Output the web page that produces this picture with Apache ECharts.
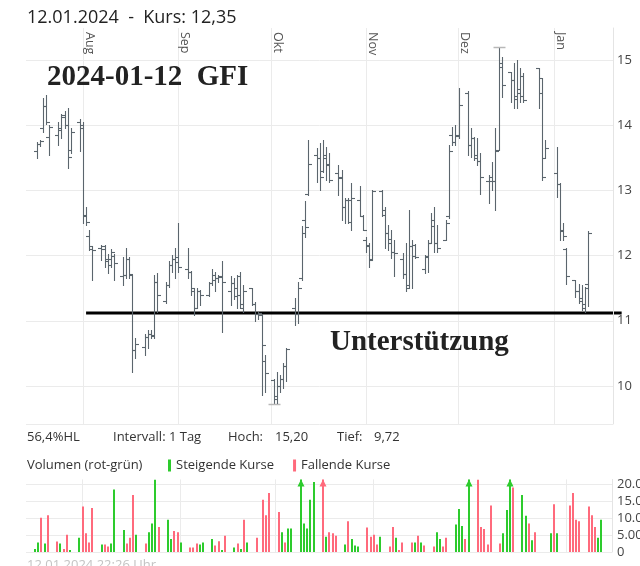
<!DOCTYPE html>
<html><head><meta charset="utf-8">
<script src="https://cdn.jsdelivr.net/npm/echarts@6/dist/echarts.min.js"></script>
<style>html,body{margin:0;padding:0;background:#fff}#c{width:640px;height:566px}</style>
</head><body><div id="c"></div>
<script>
// ---------- data ----------
const dates = [
'2023-07-17','2023-07-18','2023-07-19','2023-07-20','2023-07-21','2023-07-24','2023-07-25','2023-07-26','2023-07-27','2023-07-28','2023-07-31',
'2023-08-01','2023-08-02','2023-08-03','2023-08-04','2023-08-07','2023-08-08','2023-08-09','2023-08-10','2023-08-11','2023-08-14','2023-08-15','2023-08-16','2023-08-17','2023-08-18','2023-08-21','2023-08-22','2023-08-23','2023-08-24','2023-08-25','2023-08-28','2023-08-29','2023-08-30','2023-08-31',
'2023-09-01','2023-09-04','2023-09-05','2023-09-06','2023-09-07','2023-09-08','2023-09-11','2023-09-12','2023-09-13','2023-09-14','2023-09-15','2023-09-18','2023-09-19','2023-09-20','2023-09-21','2023-09-22','2023-09-25','2023-09-26','2023-09-27','2023-09-28','2023-09-29',
'2023-10-02','2023-10-03','2023-10-04','2023-10-05','2023-10-06','2023-10-09','2023-10-10','2023-10-11','2023-10-12','2023-10-13','2023-10-16','2023-10-17','2023-10-18','2023-10-19','2023-10-20','2023-10-23','2023-10-24','2023-10-25','2023-10-26','2023-10-27','2023-10-30','2023-10-31',
'2023-11-01','2023-11-02','2023-11-03','2023-11-06','2023-11-07','2023-11-08','2023-11-09','2023-11-10','2023-11-13','2023-11-14','2023-11-15','2023-11-16','2023-11-17','2023-11-20','2023-11-21','2023-11-22','2023-11-23','2023-11-24','2023-11-27','2023-11-28','2023-11-29','2023-11-30',
'2023-12-01','2023-12-04','2023-12-05','2023-12-06','2023-12-07','2023-12-08','2023-12-11','2023-12-12','2023-12-13','2023-12-14','2023-12-15','2023-12-18','2023-12-19','2023-12-20','2023-12-21','2023-12-22','2023-12-27','2023-12-28','2023-12-29',
'2024-01-02','2024-01-03','2024-01-04','2024-01-05','2024-01-08','2024-01-09','2024-01-10','2024-01-11','2024-01-12'];

const openP = [
13.60,13.71,13.95,14.30,13.82,13.85,13.92,14.15,14.00,13.62,14.05,
14.00,12.60,12.30,12.10,12.12,12.10,11.92,11.95,12.00,11.69,11.70,11.95,11.70,10.55,10.60,10.75,10.80,10.78,11.60,11.30,11.55,11.85,11.95,
11.98,11.80,11.75,11.45,11.20,11.45,11.39,11.58,11.62,11.65,11.68,11.45,11.58,11.50,11.68,11.25,11.50,11.25,11.10,11.09,10.38,
10.09,9.85,10.00,10.10,10.30,11.20,11.10,11.65,12.55,12.95,13.55,13.50,13.30,13.50,13.40,13.26,13.20,12.75,12.85,12.85,12.85,12.60,
12.24,12.15,11.95,12.99,12.70,12.35,12.25,12.05,11.95,11.72,11.55,12.15,12.17,11.80,12.00,12.20,12.55,12.20,12.24,12.60,13.85,13.75,
13.85,14.50,13.70,13.80,13.55,13.45,13.15,13.15,13.15,13.62,14.90,14.81,14.70,14.45,14.50,14.75,14.87,14.72,13.50,
13.26,13.10,12.40,12.10,11.62,11.45,11.30,11.20,11.57];
const highP = [
13.75,13.78,14.42,14.47,14.00,14.05,14.17,14.22,14.26,13.95,14.10,
14.05,12.75,12.39,12.15,12.17,12.16,12.03,12.10,12.02,11.98,12.11,11.98,11.71,10.73,10.80,10.86,10.86,11.70,11.73,11.60,11.91,12.01,12.11,
12.50,12.11,11.76,11.50,11.50,11.47,11.60,11.80,11.75,11.70,11.91,11.68,11.65,11.70,11.75,11.55,11.51,11.29,11.14,11.10,10.48,
10.10,10.22,10.17,10.35,10.58,11.35,11.60,12.45,12.83,13.77,13.65,13.72,13.77,13.67,13.57,13.39,13.31,12.88,12.88,13.11,13.06,12.62,
12.29,12.19,13.00,13.00,12.75,12.47,12.39,12.24,12.04,12.19,12.70,12.24,12.18,12.01,12.24,12.65,12.75,12.47,12.55,13.70,13.98,14.00,
14.57,14.52,13.95,13.82,13.80,13.57,13.24,13.44,13.95,15.20,15.05,14.82,14.95,15.00,14.87,14.80,14.88,14.73,13.77,
13.66,13.11,12.50,12.11,11.63,11.57,11.55,11.52,12.37];
const lowP = [
13.49,13.68,13.90,14.02,13.55,13.70,13.80,13.95,13.35,13.58,13.60,
12.50,12.47,12.08,11.63,11.93,11.83,11.73,11.83,11.63,11.55,11.65,11.65,10.22,10.43,10.47,10.58,10.73,10.73,11.14,11.28,11.52,11.75,11.65,
11.75,11.65,11.39,11.09,11.19,11.24,11.38,11.55,11.45,11.60,10.83,11.24,11.34,11.19,11.19,11.14,11.24,10.99,11.02,9.86,9.91,
9.72,9.74,9.91,9.97,10.07,10.93,10.96,11.62,12.29,12.93,13.13,13.00,13.28,13.16,13.13,12.93,12.55,12.50,12.50,12.39,12.60,12.39,
12.06,11.83,11.93,12.60,12.11,12.09,11.96,11.68,11.65,11.45,11.50,11.50,11.97,11.73,11.75,12.19,12.06,12.06,12.24,12.58,13.70,13.70,
13.80,13.55,13.52,13.47,13.39,12.95,12.80,13.00,12.70,13.62,14.44,14.36,14.26,14.26,14.36,14.36,14.26,13.16,13.49,
12.90,12.24,12.24,11.57,11.37,11.27,11.17,11.14,11.22];
const closeP = [
13.71,13.76,14.30,14.05,13.98,13.95,14.12,14.00,13.52,13.90,13.95,
12.62,12.52,12.14,12.08,12.15,11.95,11.85,12.05,11.89,11.70,11.95,11.72,10.55,10.65,10.75,10.80,10.77,11.60,11.39,11.55,11.85,11.95,11.90,
11.83,11.75,11.50,11.20,11.45,11.40,11.58,11.70,11.65,11.67,11.60,11.58,11.38,11.40,11.20,11.45,11.25,11.10,11.12,10.63,10.20,
9.80,10.00,10.10,10.30,10.57,11.10,11.50,12.35,12.44,13.40,13.50,13.20,13.55,13.39,13.16,13.19,12.75,12.85,12.52,12.88,12.60,12.40,
12.17,11.93,12.99,12.62,12.35,12.20,12.05,12.04,11.72,11.50,12.15,12.00,11.98,11.98,12.20,12.45,12.20,12.12,12.50,13.60,13.75,13.83,
14.31,13.70,13.80,13.50,13.45,13.21,13.20,13.15,13.60,14.95,14.62,14.70,14.40,14.55,14.45,14.38,14.50,13.21,13.65,
13.10,12.37,12.30,11.69,11.45,11.35,11.25,11.50,12.35];

const volume = [
900,2800,10100,2500,10800,3100,2500,900,5100,600,4200,
13400,5500,2800,13000,2200,2200,1600,2500,18400,6500,2500,4200,16800,5100,2500,5800,8400,21300,7400,9500,3800,6200,5800,
2800,1300,1300,2500,2200,2800,3800,1900,3200,600,4800,1300,2500,900,9500,2800,4200,0,15400,10800,17400,
11800,5800,2800,6900,6900,25000,8400,6900,15400,20600,25000,4500,5800,5500,4800,2200,9100,3800,1900,1600,7200,4500,
5100,2200,4500,1600,7400,4200,600,2800,2800,2800,4800,2800,1900,1600,5800,3800,1600,4200,8100,12700,7700,3800,
25000,21300,7400,6800,2200,13700,2500,5500,12400,25000,19000,16800,10700,8400,3500,5800,5500,14100,5500,
13700,17400,9500,9100,13400,10800,7400,4200,9500];
const volumeDir = [
'u','u','d','u','d','d','u','d','d','u','u',
'd','d','d','d','u','d','d','u','u','u','d','d','d','u','d','u','u','u','d','u','u','d','d',
'u','d','d','d','u','u','u','d','d','u','d','u','d','u','d','u','d','d','d','d','d',
'd','u','d','u','u','u','u','u','u','u','d','u','d','d','d','u','d','u','u','u','d','d',
'd','d','u','d','d','u','d','d','d','u','d','u','d','d','u','u','d','d','u','u','u','d',
'u','d','d','d','d','d','d','u','u','u','d','u','u','d','u','d','u','d','u',
'd','d','d','d','d','d','d','u','u'];

const monthTicks = ['2023-08-01','2023-09-01','2023-10-01','2023-11-01','2023-12-01','2024-01-01'];
const monthLabels = ['Aug','Sep','Okt','Nov','Dez','Jan'];
const priceTicks = [10,11,12,13,14,15];
const volumeTicks = [0,5000,10000,15000,20000];
const volumeTickLabels = ['0','5.000','10.000','15.000','20.000'];
const supportLevel = 11.12;
const supportFrom = '2023-08-02';
const supportTo = '2024-01-23';

const headerText = '12.01.2024  -  Kurs: 12,35';
const infoTexts = ['56,4%HL','Intervall: 1 Tag','Hoch:','15,20','Tief:','9,72'];
const volTitle = 'Volumen (rot-grün)';
const stampText = '12.01.2024 22:26 Uhr';
const noteTitle = '2024-01-12  GFI';
const noteSupport = 'Unterstützung';

// ---------- chart ----------
const DAY = 86400000;
const toTime = s => { const p = s.split('-').map(Number); return Date.UTC(p[0], p[1]-1, p[2]); };
const T = dates.map(toTime);
const monthT = monthTicks.map(toTime);
const aug1 = monthT[0];
const FONT = '"Open Sans", "Noto Sans", sans-serif';
const PRICE_MIN = 9.417, PRICE_MAX = 15.491, VOL_MAX = 21400;
const GREEN = '#2dcb2d', RED = '#ff6a7c', BAR = '#5b656d', GRID = '#ebebeb';
const hiMax = Math.max(...highP), loMin = Math.min(...lowP);

const ohlcData = T.map((t,i) => [t, openP[i], highP[i], lowP[i], closeP[i]]);
const upData = [], downData = [];
T.forEach((t,i) => { if (volume[i] > 0) (volumeDir[i] === 'u' ? upData : downData).push([t, volume[i]]); });

function ohlcRender(params, api) {
  const x = api.value(0);
  const o = api.coord([x, api.value(1)]), h = api.coord([x, api.value(2)]);
  const l = api.coord([x, api.value(3)]), c = api.coord([x, api.value(4)]);
  const px = Math.round(o[0]) + 0.5;
  const st = {stroke: BAR, lineWidth: 1.1};
  const ch = [
    {type:'line', shape:{x1:px, y1:Math.round(h[1]), x2:px, y2:Math.round(l[1])+1}, style:st},
    {type:'line', shape:{x1:px-3.5, y1:Math.round(o[1])+0.5, x2:px, y2:Math.round(o[1])+0.5}, style:st},
    {type:'line', shape:{x1:px, y1:Math.round(c[1])+0.5, x2:px+3.5, y2:Math.round(c[1])+0.5}, style:st}
  ];
  if (api.value(2) === hiMax) ch.push({type:'line', shape:{x1:px-6, y1:Math.round(h[1])+0.5, x2:px+6, y2:Math.round(h[1])+0.5}, style:{stroke:'#b8b8b8', lineWidth:1.5}});
  if (api.value(3) === loMin) ch.push({type:'line', shape:{x1:px-6, y1:Math.round(l[1])+0.5, x2:px+6, y2:Math.round(l[1])+0.5}, style:{stroke:'#b8b8b8', lineWidth:1.5}});
  return {type:'group', children: ch};
}
function volRender(color) {
  return function(params, api) {
    const x = api.value(0), v = api.value(1);
    const top = Math.min(v, VOL_MAX);
    const p0 = api.coord([x, 0]), p1 = api.coord([x, top]);
    const px = Math.round(p0[0]);
    const ch = [{type:'rect', shape:{x:px-1, y:p1[1], width:2, height:p0[1]-p1[1]}, style:{fill:color}}];
    if (v > VOL_MAX) ch.push({type:'polygon', shape:{points:[[px-3.5, p1[1]+7],[px+3.5, p1[1]+7],[px, p1[1]]]}, style:{fill:color}});
    return {type:'group', children: ch};
  };
}

const chart = echarts.init(document.getElementById('c'), null, {renderer:'canvas'});
const txt = (x, y, text, extra) => ({type:'text', x, y, silent:true,
  style: Object.assign({text, fontFamily:FONT, fontSize:13, fill:'#333', verticalAlign:'middle', align:'left'}, extra||{})});

chart.setOption({
  animation: false,
  backgroundColor: '#fff',
  grid: [
    {left:26, right:27, top:28, height:396, outerBoundsMode:'none', containLabel:false},
    {left:26, right:28, top:479.4, height:72.6, outerBoundsMode:'none', containLabel:false}
  ],
  xAxis: [
    {type:'value', gridIndex:0, min: aug1 - 18.52*DAY, max: aug1 + 172.19*DAY, position:'top',
     axisLine:{show:false}, axisTick:{show:false, customValues: monthT},
     splitLine:{show:true, lineStyle:{color:GRID, width:1}},
     axisLabel:{inside:true, rotate:90, margin:4, customValues: monthT, verticalAlign:'bottom',
       formatter: v => monthLabels[monthT.indexOf(v)] || '', fontSize:12.5, color:'#555', fontFamily:FONT}},
    {type:'value', gridIndex:1, min: aug1 - 17.89*DAY, max: aug1 + 167.32*DAY,
     axisLine:{show:false}, axisTick:{show:false, customValues: monthT},
     splitLine:{show:true, lineStyle:{color:GRID, width:1}},
     axisLabel:{show:false, customValues: monthT}}
  ],
  yAxis: [
    {type:'value', gridIndex:0, position:'right', min:PRICE_MIN, max:PRICE_MAX,
     axisLine:{show:true, lineStyle:{color:'#e4e4e4'}},
     axisTick:{show:false, customValues:[PRICE_MIN].concat(priceTicks)},
     splitLine:{show:true, lineStyle:{color:GRID}},
     axisLabel:{customValues: priceTicks, margin:4, fontSize:13, color:'#444', fontFamily:FONT}},
    {type:'value', gridIndex:1, position:'right', min:0, max:VOL_MAX,
     axisLine:{show:true, lineStyle:{color:'#e4e4e4'}},
     axisTick:{show:false, customValues: volumeTicks},
     splitLine:{show:true, lineStyle:{color:GRID}},
     axisLabel:{customValues: volumeTicks, margin:5, fontSize:13, color:'#444', fontFamily:FONT,
       formatter: v => volumeTickLabels[volumeTicks.indexOf(v)]}}
  ],
  legend: {data:['Steigende Kurse','Fallende Kurse'], left:163, top:454, icon:'rect', itemWidth:3, itemHeight:12,
    itemGap:19, selectedMode:false, textStyle:{fontSize:13, color:'#333', fontFamily:FONT}},
  series: [
    {type:'custom', name:'Kurs', xAxisIndex:0, yAxisIndex:0, renderItem: ohlcRender, data: ohlcData,
     encode:{x:0, y:[1,2,3,4]}, clip:true},
    {type:'custom', name:'Steigende Kurse', xAxisIndex:1, yAxisIndex:1, itemStyle:{color:GREEN},
     renderItem: volRender(GREEN), data: upData, encode:{x:0, y:1}},
    {type:'custom', name:'Fallende Kurse', xAxisIndex:1, yAxisIndex:1, itemStyle:{color:RED},
     renderItem: volRender(RED), data: downData, encode:{x:0, y:1}}
  ]
});

const p1 = chart.convertToPixel({xAxisIndex:0, yAxisIndex:0}, [toTime(supportFrom), supportLevel]);
const p2 = chart.convertToPixel({xAxisIndex:0, yAxisIndex:0}, [toTime(supportTo), supportLevel]);

chart.setOption({
  graphic: [
    txt(27, 17.5, headerText, {fontSize:18, fill:'#222'}),
    txt(27, 437, infoTexts[0]), txt(113, 437, infoTexts[1]),
    txt(228, 437, infoTexts[2]), txt(275, 437, infoTexts[3]),
    txt(337, 437, infoTexts[4]), txt(374, 437, infoTexts[5]),
    txt(27, 465, volTitle),
    txt(27, 565, stampText, {fill:'#c4c4c4'}),
    txt(47, 78, noteTitle, {fontFamily:'"Liberation Serif", serif', fontWeight:'bold', fontSize:29, fill:'#222'}),
    txt(330, 343, noteSupport, {fontFamily:'"Liberation Serif", serif', fontWeight:'bold', fontSize:29, fill:'#222'}),
    {type:'line', silent:true, shape:{x1:p1[0], y1:p1[1], x2:p2[0], y2:p2[1]}, style:{stroke:'#000', lineWidth:3}}
  ]
});
</script>
</body></html>
